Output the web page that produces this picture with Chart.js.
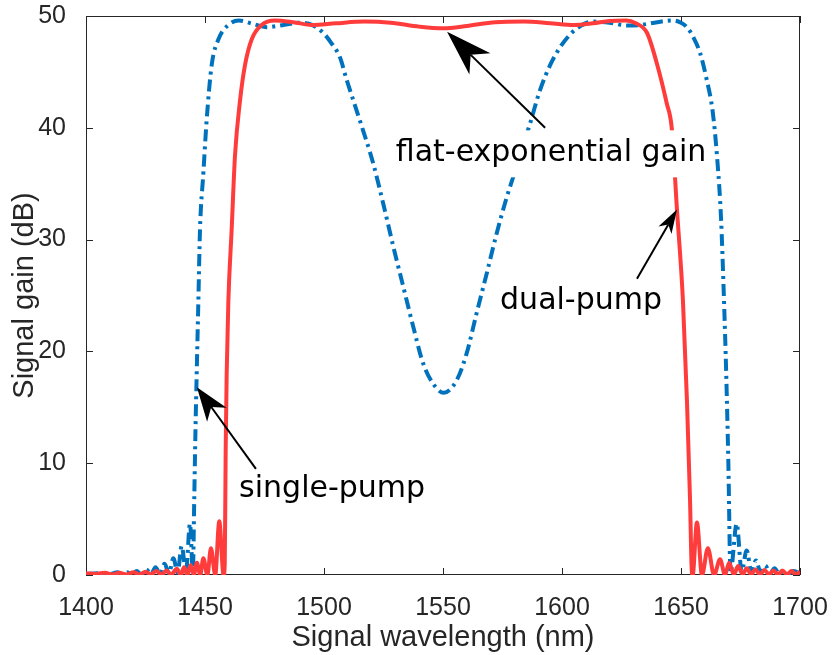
<!DOCTYPE html>
<html>
<head>
<meta charset="utf-8">
<script src="https://cdn.jsdelivr.net/npm/chart.js@4.4.1/dist/chart.umd.min.js"></script>
<style>
  html, body { margin: 0; padding: 0; background: #fff; }
</style>
</head>
<body>
<canvas id="gain" width="832" height="655"></canvas>
<script>
// values: wavelength in nm, gain in dB
var xTicks = [1400, 1450, 1500, 1550, 1600, 1650, 1700];
var yTicks = [0, 10, 20, 30, 40, 50];

// dual-pump / flat-exponential gain (solid red)
var dualWl = [1400, 1404, 1408, 1411, 1414, 1417, 1420, 1422.5, 1425, 1427.3, 1429.5, 1431.7,
  1433.8, 1435.8, 1438.2, 1439.8, 1441.2, 1442.6, 1444, 1445.3, 1446.6, 1448, 1449.3, 1451,
  1452.5, 1454.3, 1456, 1457.8, 1458.3, 1458.7, 1459.1, 1459.8, 1461.2, 1462.6, 1464.7, 1466.8,
  1469.6, 1473.8, 1479.4, 1487, 1495, 1505, 1517, 1528, 1540, 1550, 1560, 1572, 1584, 1595,
  1605, 1613, 1620, 1627, 1631, 1635.7, 1639.8, 1644, 1646.1, 1648.3, 1650.8, 1652.5, 1653.8,
  1654.5, 1654.9, 1656.7, 1658.8, 1661.3, 1663.9, 1666.4, 1668.5, 1670.2, 1672.2, 1674, 1675.9,
  1677.6, 1679.5, 1681.2, 1683.2, 1685, 1687, 1688.8, 1690.8, 1692.6, 1694.6, 1696.4, 1698.4, 1700];
var dualGain = [0.15, 0.1, 0.2, 0.05, 0.2, 0.05, 0.25, 0.05, 0.3, 0.05, 0.35, 0.05,
  0.4, 0.05, 0.55, 0, 0.7, 0, 0.9, 0, 1.1, 0, 1.5, 0,
  2.4, 0, 4.8, 0, 1, 11.4, 17.9, 24.4, 30.9, 37.5, 42.4, 45.6,
  47.9, 49.2, 49.6, 49.45, 49.2, 49.35, 49.5, 49.4, 49.05, 48.9, 49.1, 49.45, 49.5, 49.35,
  49.2, 49.35, 49.55, 49.6, 49.35, 48.5, 45.8, 42.2, 40, 32.7, 24.6, 15.6, 6.7,
  0.5, 0, 4.7, 0, 2.4, 0, 1.4, 0, 1.1, 0.05, 0.8, 0.05,
  0.6, 0.05, 0.5, 0.05, 0.45, 0.05, 0.4, 0.05, 0.4, 0.05, 0.35, 0.05, 0.3];

// single-pump (dash-dot blue)
var singleWl = [1400, 1405, 1410, 1413.2, 1415.2, 1417.2, 1419.3, 1421.3, 1423.3, 1425.3, 1427.3,
  1429.2, 1431.1, 1433, 1434.9, 1436.7, 1438.5, 1440.2, 1442, 1443.7, 1444.9, 1445.5, 1446,
  1446.5, 1447.2, 1447.9, 1449.3, 1450.7, 1452.8, 1455.6, 1459.8, 1464.2, 1470, 1476, 1483,
  1490, 1495, 1499.6, 1503, 1506.7, 1509.5, 1515, 1520.7, 1524.9, 1529.1, 1533.3, 1537.5,
  1541.7, 1545.9, 1550.3, 1555.7, 1559.9, 1564.1, 1568.4, 1572.6, 1576.8, 1579.5, 1586.6,
  1590.8, 1595, 1599.2, 1602.8, 1606.3, 1613, 1620, 1627, 1633, 1640, 1646.6, 1650, 1652.5,
  1655.2, 1658, 1660.6, 1663.4, 1665.3, 1666.8, 1668, 1669, 1669.9, 1670.8, 1673.4, 1675.5,
  1677.6, 1679.6, 1681.5, 1683.5, 1685.4, 1687.4, 1689.3, 1691.3, 1693.2, 1695.2, 1697.1, 1700];
var singleGain = [0.1, 0.15, 0.1, 0.25, 0.05, 0.25, 0.05, 0.35, 0.05, 0.5, 0.05,
  0.7, 0.1, 1.0, 0.15, 1.5, 0.2, 2.6, 0.25, 4.6, 0.3, 7, 13,
  17.9, 24.4, 30.9, 35.9, 40.7, 45.6, 47.9, 49.2, 49.6, 49.3, 49.0, 49.2,
  49.4, 49.2, 48.5, 47.6, 46.3, 44.3, 40.7, 36.8, 33.2, 29.4, 25.8, 22.2,
  18.9, 17.1, 16.3, 17.4, 19.8, 23.4, 27.0, 30.6, 33.8, 35.6, 40.4,
  43.4, 45.6, 47.2, 48.2, 48.9, 49.5, 49.4, 49.15, 49.2, 49.45, 49.6, 49.4, 49.0,
  48.1, 46.7, 44.5, 41.3, 37, 32, 25, 18, 10, 0.2, 4.6, 0.3,
  2.2, 0.25, 1.3, 0.2, 0.85, 0.15, 0.6, 0.1, 0.45, 0.1, 0.35, 0.15];

// text labels with arrows, in data units (label baseline centre, arrow tail, arrow tip)
var notes = [
  { text: 'flat-exponential gain', x: 1595.4, y: 37.0, fromX: 1592.9, fromY: 40.0, toX: 1551.7, toY: 48.6, head: 46, wide: 30 },
  { text: 'dual-pump', x: 1608.0, y: 23.8, fromX: 1631.5, fromY: 26.5, toX: 1648.3, toY: 32.7, head: 24, wide: 15 },
  { text: 'single-pump', x: 1503.4, y: 7.0, fromX: 1471.4, fromY: 9.5, toX: 1446.6, toY: 16.8, head: 34, wide: 24 }
];

function toPoints(xs, ys) {
  var pts = [];
  for (let i = 0; i < xs.length; i++) {
    pts.push({ x: xs[i], y: ys[i] });
  }
  return pts;
}

var tickFont = { family: 'Liberation Sans', size: 25 };
var titleFont = { family: 'Liberation Sans', size: 29 };
var ink = '#262626';

// MATLAB style box with inward ticks
var boxPlugin = {
  id: 'box',
  beforeDatasetsDraw: function (chart) {
    var ctx = chart.ctx, a = chart.chartArea;
    var xs = chart.scales.x, ys = chart.scales.y;
    var len = 7;
    ctx.save();
    ctx.strokeStyle = ink;
    ctx.lineWidth = 1;
    ctx.strokeRect(a.left + 0.5, a.top + 0.5, a.right - a.left - 1, a.bottom - a.top - 1);
    ctx.beginPath();
    xTicks.forEach(function (v) {
      var px = Math.round(xs.getPixelForValue(v)) + 0.5;
      ctx.moveTo(px, a.bottom); ctx.lineTo(px, a.bottom - len);
      ctx.moveTo(px, a.top); ctx.lineTo(px, a.top + len);
    });
    yTicks.forEach(function (v) {
      var py = Math.round(ys.getPixelForValue(v)) + 0.5;
      ctx.moveTo(a.left, py); ctx.lineTo(a.left + len, py);
      ctx.moveTo(a.right, py); ctx.lineTo(a.right - len, py);
    });
    ctx.stroke();
    ctx.restore();
  }
};

var notePlugin = {
  id: 'notes',
  afterDatasetsDraw: function (chart) {
    var ctx = chart.ctx;
    var xs = chart.scales.x, ys = chart.scales.y;
    ctx.save();
    ctx.font = '30px "DejaVu Sans"';
    ctx.textAlign = 'center';
    ctx.textBaseline = 'alphabetic';
    notes.forEach(function (n) {
      var tx = xs.getPixelForValue(n.x), ty = ys.getPixelForValue(n.y);
      var w = ctx.measureText(n.text).width;
      ctx.fillStyle = '#fff';
      ctx.fillRect(tx - w / 2 - 5, ty - 31, w + 10, 47);
      ctx.fillStyle = '#000';
      ctx.fillText(n.text, tx, ty);

      var x0 = xs.getPixelForValue(n.fromX), y0 = ys.getPixelForValue(n.fromY);
      var x1 = xs.getPixelForValue(n.toX), y1 = ys.getPixelForValue(n.toY);
      var ang = Math.atan2(y1 - y0, x1 - x0);
      var cos = Math.cos(ang), sin = Math.sin(ang);
      var bx = x1 - n.head * cos, by = y1 - n.head * sin;
      var nx = x1 - n.head * 0.72 * cos, ny = y1 - n.head * 0.72 * sin;
      ctx.strokeStyle = '#000';
      ctx.lineWidth = 2;
      ctx.beginPath();
      ctx.moveTo(x0, y0);
      ctx.lineTo(nx, ny);
      ctx.stroke();
      ctx.fillStyle = '#000';
      ctx.beginPath();
      ctx.moveTo(x1, y1);
      ctx.lineTo(bx - sin * n.wide / 2, by + cos * n.wide / 2);
      ctx.lineTo(nx, ny);
      ctx.lineTo(bx + sin * n.wide / 2, by - cos * n.wide / 2);
      ctx.closePath();
      ctx.fill();
    });
    ctx.restore();
  }
};

var ctx = document.getElementById('gain').getContext('2d');
var myChart = new Chart(ctx, {
  type: 'line',
  data: {
    datasets: [
      {
        label: 'dual-pump',
        data: toPoints(dualWl, dualGain),
        borderColor: '#ff3c3c',
        borderWidth: 4,
        pointRadius: 0,
        cubicInterpolationMode: 'monotone',
        fill: false
      },
      {
        label: 'single-pump',
        data: toPoints(singleWl, singleGain),
        borderColor: '#0072bd',
        borderWidth: 4,
        borderDash: [12, 5, 3, 5],
        pointRadius: 0,
        cubicInterpolationMode: 'monotone',
        fill: false
      }
    ]
  },
  options: {
    responsive: false,
    devicePixelRatio: 1,
    animation: false,
    layout: { padding: { top: 16, right: 32, left: 0, bottom: 0 } },
    plugins: {
      legend: { display: false },
      tooltip: { enabled: false }
    },
    scales: {
      x: {
        type: 'linear',
        min: 1400,
        max: 1700,
        afterBuildTicks: function (s) { s.ticks = xTicks.map(function (v) { return { value: v }; }); },
        afterFit: function (s) { s.height = 80; s.paddingLeft = 0; s.paddingRight = 0; },
        grid: { display: false },
        border: { display: false },
        ticks: { font: tickFont, color: ink, padding: 10, maxRotation: 0, callback: function (v) { return String(v); } },
        title: { display: true, text: 'Signal wavelength (nm)', font: titleFont, color: ink, padding: { top: 0, bottom: 0 } }
      },
      y: {
        min: 0,
        max: 50,
        afterBuildTicks: function (s) { s.ticks = yTicks.map(function (v) { return { value: v }; }); },
        afterFit: function (s) { s.width = 86; s.paddingTop = 0; s.paddingBottom = 0; },
        grid: { display: false },
        border: { display: false },
        ticks: { font: tickFont, color: ink, padding: 12, callback: function (v) { return String(v); } },
        title: { display: true, text: 'Signal gain (dB)', font: titleFont, color: ink, padding: { top: 8, bottom: 0 } }
      }
    }
  },
  plugins: [boxPlugin, notePlugin]
});
</script>
</body>
</html>
